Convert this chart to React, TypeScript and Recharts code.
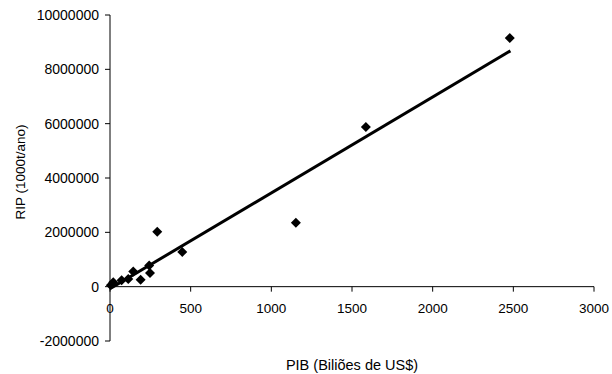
import React from 'react';
import { ScatterChart, Scatter, XAxis, YAxis, ReferenceLine } from 'recharts';

// PIB (bilhões US$) x RIP (1000t/ano)
const pibValues = [5, 20, 72, 113, 144, 190, 243, 248, 293, 448, 1152, 1586, 2478];
const ripValues = [50000, 158000, 232000, 283000, 562000, 257000, 783000, 504000, 2020000, 1280000, 2350000, 5880000, 9150000];

// linear trend line end points
const trendPib = [10, 2482];
const trendRip = [-40000, 8680000];

const xTicks = [0, 500, 1000, 1500, 2000, 2500, 3000];
const yTicks = [-2000000, 0, 2000000, 4000000, 6000000, 8000000, 10000000];

const W = 612;
const H = 374;
const MARGIN = { top: 15, right: 18, left: 20, bottom: 0 };
const X_AXIS_H = 33;
const PLOT_H = H - MARGIN.top - MARGIN.bottom - X_AXIS_H;
const Y_MIN = -2000000;
const Y_MAX = 10000000;
// distance from the bottom of the plot up to the y = 0 line
const ZERO_SHIFT = (PLOT_H * (0 - Y_MIN)) / (Y_MAX - Y_MIN);

const FONT = 'Liberation Sans, Arial, sans-serif';

const points = pibValues.map((x, i) => ({ x, y: ripValues[i] }));
const trend = trendPib.map((x, i) => ({ x, y: trendRip[i] }));

const Diamond = (props: any) => {
  const { cx, cy } = props;
  const r = 5;
  return <path d={`M${cx},${cy - r}L${cx + r},${cy}L${cx},${cy + r}L${cx - r},${cy}Z`} fill="#000" />;
};

// x ticks hang off the y = 0 line, not the bottom of the plot
const XTick = (props: any) => {
  const { x, y, payload } = props;
  const y0 = y - ZERO_SHIFT;
  return (
    <g>
      <line x1={x} x2={x} y1={y0} y2={y0 + 5} stroke="#000" />
      <text x={x} y={y0 + 22} textAnchor="middle" dominantBaseline="central" fontSize={13.5} fontFamily={FONT} fill="#000">
        {payload.value}
      </text>
    </g>
  );
};

const YLabel = () => (
  <text
    transform="translate(20,172) rotate(-90)"
    textAnchor="middle"
    dominantBaseline="central"
    fontSize={13.5}
    fontFamily={FONT}
    fill="#000"
  >
    RIP (1000t/ano)
  </text>
);

const App: React.FC = () => {
  return (
    <div style={{ position: 'absolute', left: 0, top: 0, background: '#fff' }}>
      <ScatterChart width={W} height={H} margin={MARGIN}>
        <XAxis
          type="number"
          dataKey="x"
          domain={[0, 3000]}
          ticks={xTicks}
          height={X_AXIS_H}
          axisLine={false}
          tickLine={false}
          tickSize={0}
          tickMargin={0}
          tick={<XTick />}
          interval={0}
          label={{ value: 'PIB (Biliões de US$)', position: 'insideBottom', offset: 4, fontSize: 14.5, fontFamily: FONT, fill: '#000' }}
        />
        <YAxis
          type="number"
          dataKey="y"
          domain={[Y_MIN, Y_MAX]}
          ticks={yTicks}
          width={90}
          interval={0}
          stroke="#000"
          tickSize={5}
          tickMargin={6}
          tick={{ fontSize: 14, fontFamily: FONT, fill: '#000' }}
          label={{ content: () => <YLabel /> }}
        />
        <ReferenceLine y={0} stroke="#000" />
        <Scatter data={points} shape={<Diamond />} isAnimationActive={false} />
        <Scatter
          data={trend}
          shape={() => <g />}
          line={{ stroke: '#000', strokeWidth: 3 }}
          isAnimationActive={false}
        />
      </ScatterChart>
    </div>
  );
};

export default App;
